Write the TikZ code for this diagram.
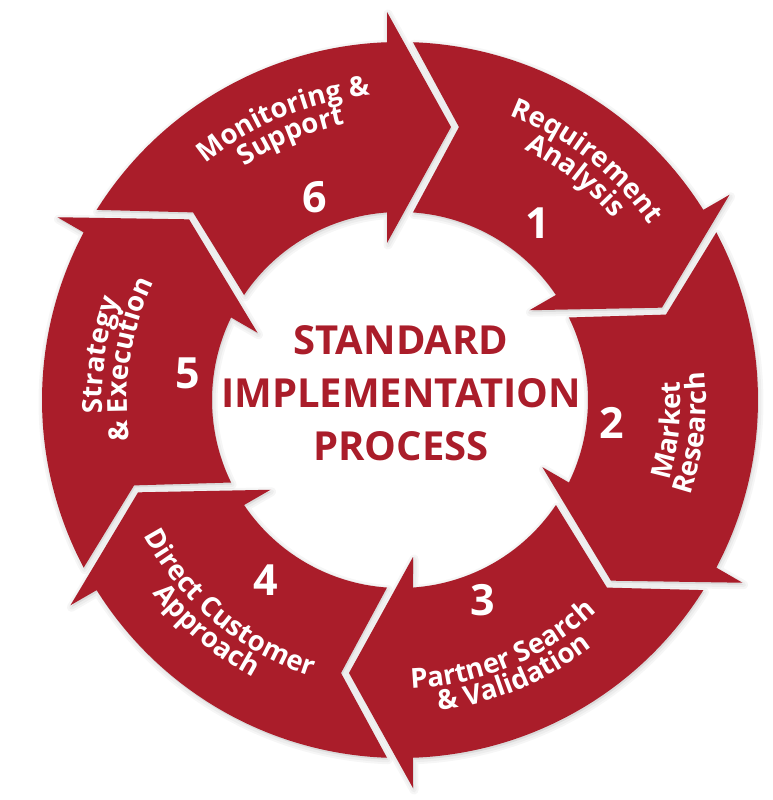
\documentclass[tikz,border=0pt]{standalone}
\usepackage{fontspec}
\setmainfont{Open Sans}
\usetikzlibrary{calc,decorations.text}
\definecolor{brandred}{RGB}{170,29,42}
\newcommand\lblfont{\bfseries\fontsize{27.5pt}{27.5pt}\selectfont}
% clockwise text line (tops outward)
\newcommand\cwline[3]{%
  \path[decorate,decoration={text along path,text align=center,text color=white,text={|\lblfont|#3}}]
    (#1+45:#2pt) arc[start angle=#1+45,end angle=#1-45,radius=#2pt];}
% counter-clockwise text line (tops inward)
\newcommand\ccwline[3]{%
  \path[decorate,decoration={text along path,text align=center,text color=white,text={|\lblfont|#3}}]
    (#1-45:#2pt) arc[start angle=#1-45,end angle=#1+45,radius=#2pt];}
% one arrow segment: tail boundary #1, head boundary #2
\newcommand\segpath[2]{%
  (#1-2.08:358pt) arc[start angle=#1-2.08,end angle=#2+2.08,radius=358pt]
    -- ($(#2:388pt)+(#2+90:13pt)$)
    -- ($(#2:273pt)+(#2-90:51pt)$)
    -- ($(#2:157pt)+(#2+90:13pt)$)
    -- (#2+3.965:188pt) arc[start angle=#2+3.965,end angle=#1-3.965,radius=188pt]
    -- ($(#1:273pt)+(#1-90:59pt)$) -- cycle}
\tikzset{
  segment/.style={fill=brandred},
  halo/.style={draw=black,fill=black,line join=round,opacity=0.035},
  number/.style={text=white,font=\bfseries\fontsize{43pt}{43pt}\selectfont,inner sep=0pt},
  title/.style={text=brandred,font=\bfseries\fontsize{40pt}{40pt}\selectfont,inner sep=0pt,anchor=base}
}
\begin{document}
\begin{tikzpicture}
\useasboundingbox (-400pt,-400pt) rectangle (373pt,400pt);
\fill[white] (-400pt,-400pt) rectangle (373pt,400pt);
% soft shadow
\foreach \t in {150,90,30,-30,-90,-150}{
  \pgfmathsetmacro\hd{\t-60}
  \path[halo,line width=9pt,shift={(1pt,-2pt)}] \segpath{\t}{\hd};
  \path[halo,line width=5pt,shift={(1pt,-2pt)}] \segpath{\t}{\hd};
}
% six arrow segments (tail boundary angle; head = tail-60)
\foreach \t in {150,90,30,-30,-90,-150}{
  \pgfmathsetmacro\hd{\t-60}
  \fill[segment] \segpath{\t}{\hd};
}
% numbers
\node[number] (n6) at (-85pt,203pt) {6};
\node[number] (n1) at (138pt,177pt) {1};
\node[number] (n2) at (212pt,-23pt) {2};
\node[number] (n3) at (83pt,-200pt) {3};
\node[number] (n4) at (-134pt,-180pt) {4};
\node[number] (n5) at (-212pt,27pt) {5};
% labels
\cwline{112.5}{306}{Monitoring {\&}}
\cwline{112.5}{281}{Support}
\cwline{52}{305}{Requirement}
\cwline{52}{280}{Analysis}
\ccwline{-6.5}{281}{Market}
\ccwline{-6.5}{306}{Research}
\ccwline{-67.5}{289}{Partner Search}
\ccwline{-67.5}{313}{{\&} Validation}
\ccwline{-130}{290}{Direct Customer}
\ccwline{-130}{314}{Approach}
\cwline{171.5}{298}{Strategy}
\cwline{171.5}{273}{{\&} Execution}
% centre title
\node[title] (t1) at (1pt,45pt) {STANDARD};
\node[title] (t2) at (1pt,-8pt) {IMPLEMENTATION};
\node[title] (t3) at (1pt,-60pt) {PROCESS};
\end{tikzpicture}
\end{document}
